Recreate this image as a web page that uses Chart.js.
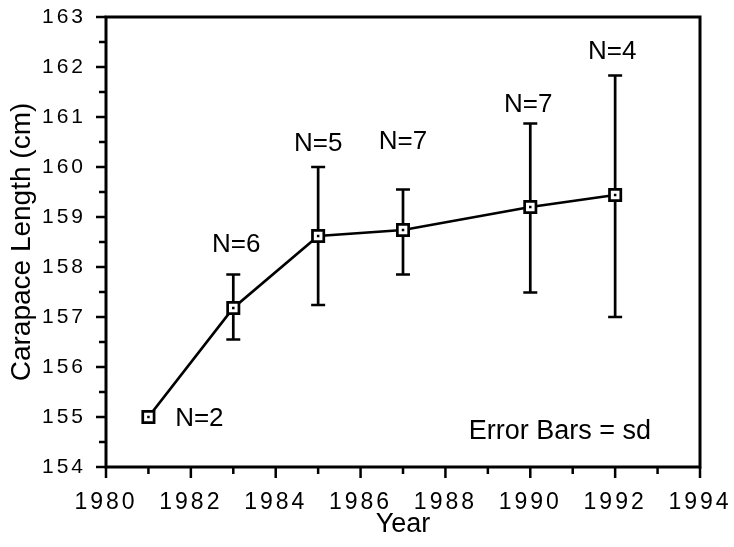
<!DOCTYPE html>
<html>
<head>
<meta charset="utf-8">
<script src="https://cdn.jsdelivr.net/npm/chart.js@4.4.0/dist/chart.umd.min.js"></script>
<style>
  html, body { margin: 0; padding: 0; background: #fff; }
  #wrap { width: 734px; height: 547px; }
</style>
</head>
<body>
<div id="wrap"><canvas id="lengthChart"></canvas></div>
<script>
// survey years and mean carapace length (cm)
var years = [1981, 1983, 1985, 1987, 1990, 1992];
var meanLength = [155.0, 157.18, 158.62, 158.74, 159.2, 159.44];
// +/- one sd (first year has no bar)
var sdLow = [null, 156.55, 157.24, 157.85, 157.49, 157.0];
var sdHigh = [null, 157.85, 160.0, 159.55, 160.87, 161.83];
var sampleN = ['N=2', 'N=6', 'N=5', 'N=7', 'N=7', 'N=4'];
// where the N labels sit, in axis units
var nLabelX = [1982.2, 1983.07, 1985, 1987, 1989.95, 1991.93];
var nLabelY = [154.96, 158.44, 160.46, 160.5, 161.24, 162.3];

var yearTicks = [1980, 1982, 1984, 1986, 1988, 1990, 1992, 1994];
var lengthTicks = [154, 155, 156, 157, 158, 159, 160, 161, 162, 163];

var FONT = '"Liberation Sans", Arial, Helvetica, sans-serif';

// keep chart.js from growing the margins for the tick labels
function noEdgePadding(s) {
  s.paddingTop = 0;
  s.paddingBottom = 0;
  s.paddingLeft = 0;
  s.paddingRight = 0;
}

var decor = {
  id: 'decor',
  beforeDraw: function (chart) {
    chart.ctx.letterSpacing = '0px';
  },
  beforeDatasetsDraw: function (chart) {
    var ctx = chart.ctx, a = chart.chartArea;
    var xs = chart.scales.x, ys = chart.scales.y;
    ctx.save();
    ctx.strokeStyle = '#000';
    ctx.lineWidth = 3;
    ctx.strokeRect(a.left, a.top, a.right - a.left, a.bottom - a.top);

    // outside tick marks, minor ones shorter
    ctx.lineWidth = 2.5;
    ctx.beginPath();
    for (var yr = xs.min; yr <= xs.max; yr++) {
      var px = xs.getPixelForValue(yr);
      var len = yr % 2 === 0 ? 11 : 7;
      ctx.moveTo(px, a.bottom);
      ctx.lineTo(px, a.bottom + len);
    }
    for (var v = ys.min; v <= ys.max; v += 0.5) {
      var py = ys.getPixelForValue(v);
      var l2 = v % 1 === 0 ? 10 : 7;
      ctx.moveTo(a.left, py);
      ctx.lineTo(a.left - l2, py);
    }
    ctx.stroke();

    // sd bars
    ctx.lineWidth = 2.7;
    ctx.beginPath();
    for (var i = 0; i < years.length; i++) {
      if (sdLow[i] === null) continue;
      var x = xs.getPixelForValue(years[i]);
      var y1 = ys.getPixelForValue(sdLow[i]);
      var y2 = ys.getPixelForValue(sdHigh[i]);
      ctx.moveTo(x, y1); ctx.lineTo(x, y2);
      ctx.moveTo(x - 7, y1); ctx.lineTo(x + 7, y1);
      ctx.moveTo(x - 7, y2); ctx.lineTo(x + 7, y2);
    }
    ctx.stroke();
    ctx.restore();
  },
  afterDatasetsDraw: function (chart) {
    var ctx = chart.ctx;
    var xs = chart.scales.x, ys = chart.scales.y;
    var pts = chart.getDatasetMeta(0).data;
    ctx.save();
    ctx.fillStyle = '#000';
    pts.forEach(function (p) {
      ctx.fillRect(p.x - 1.25, p.y - 1.25, 2.5, 2.5);
    });
    ctx.font = '26px ' + FONT;
    ctx.textAlign = 'center';
    ctx.textBaseline = 'middle';
    for (var i = 0; i < sampleN.length; i++) {
      ctx.fillText(sampleN[i], xs.getPixelForValue(nLabelX[i]), ys.getPixelForValue(nLabelY[i]));
    }
    ctx.font = '27px ' + FONT;
    ctx.fillText('Error Bars = sd', xs.getPixelForValue(1990.7), ys.getPixelForValue(154.7));
    ctx.restore();
    // tick labels are drawn after this, spaced out
    ctx.letterSpacing = '3px';
  },
  afterDraw: function (chart) {
    chart.ctx.letterSpacing = '0px';
  }
};

var ctx = document.getElementById('lengthChart').getContext('2d');
var lengthChart = new Chart(ctx, {
  type: 'line',
  data: {
    datasets: [{
      label: 'Carapace length',
      data: years.map(function (y, i) { return { x: y, y: meanLength[i] }; }),
      borderColor: '#000',
      borderWidth: 2.7,
      tension: 0,
      pointStyle: 'rect',
      pointRadius: 8,
      pointHoverRadius: 8,
      pointBorderWidth: 2.7,
      pointBackgroundColor: '#fff',
      pointBorderColor: '#000',
      clip: false
    }]
  },
  options: {
    responsive: true,
    maintainAspectRatio: false,
    animation: false,
    events: [],
    layout: { padding: { top: 17, right: 34, left: 0, bottom: 0 } },
    plugins: {
      legend: { display: false },
      tooltip: { enabled: false }
    },
    scales: {
      x: {
        type: 'linear',
        min: 1980,
        max: 1994,
        afterBuildTicks: function (s) {
          s.ticks = yearTicks.map(function (v) { return { value: v }; });
        },
        afterFit: function (s) { s.height = 80; noEdgePadding(s); },
        grid: { display: false, drawTicks: false },
        border: { display: false },
        ticks: {
          z: 1,
          padding: 22,
          color: '#000',
          maxRotation: 0,
          font: { family: FONT, size: 23 },
          callback: function (v) { return String(v); }
        },
        title: {
          display: true,
          text: 'Year',
          color: '#000',
          font: { family: FONT, size: 27 },
          padding: { top: 0, bottom: 6 }
        }
      },
      y: {
        min: 154,
        max: 163,
        afterBuildTicks: function (s) {
          s.ticks = lengthTicks.map(function (v) { return { value: v }; });
        },
        afterFit: function (s) { s.width = 106; noEdgePadding(s); },
        grid: { display: false, drawTicks: false },
        border: { display: false },
        ticks: {
          z: 1,
          padding: 20,
          color: '#000',
          font: { family: FONT, size: 21 }
        },
        title: {
          display: true,
          text: 'Carapace Length (cm)',
          color: '#000',
          font: { family: FONT, size: 28 },
          padding: { top: 5, bottom: 0 }
        }
      }
    }
  },
  plugins: [decor]
});
</script>
</body>
</html>
